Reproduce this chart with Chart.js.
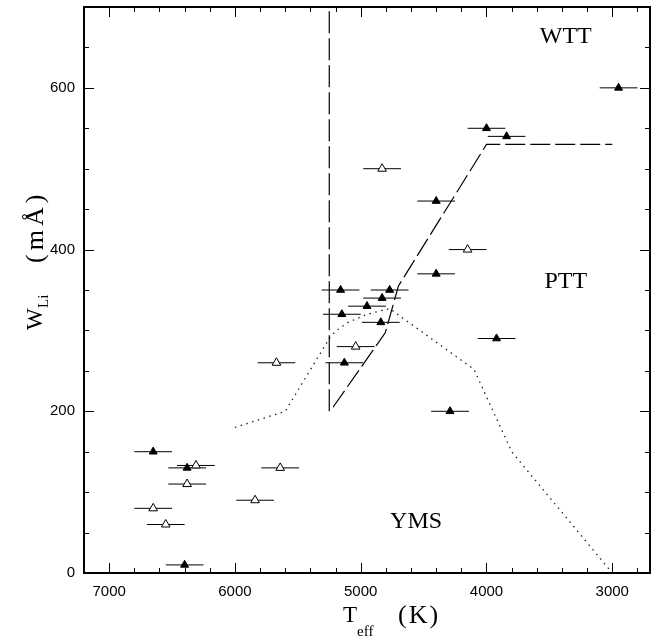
<!DOCTYPE html>
<html><head><meta charset="utf-8">
<script src="https://cdn.jsdelivr.net/npm/chart.js@4/dist/chart.umd.min.js"></script>
<style>html,body{margin:0;padding:0;background:#fff;}canvas{display:block;}</style>
</head><body>
<canvas id="c" width="671" height="640"></canvas>
<script>
// ---- data ----
const filledT = [2950, 4000, 3840, 4400, 4400, 5160, 4770, 4830, 4950, 5150, 4840, 5130, 3920, 4290, 6650, 6380, 6400];
const filledW = [600, 550, 540, 460, 370, 350, 350, 340, 330, 320, 310, 260, 290, 200, 150, 130, 10];
const openT = [4830, 4150, 5040, 5670, 6310, 5640, 6380, 5840, 6650, 6550];
const openW = [500, 400, 280, 260, 133, 130, 110, 90, 80, 60];
const tErr = 150;
const wttT = [5220, 4805, 4700, 4000, 3000];
const wttW = [205, 297, 355, 530, 530];
const vertT = [5250, 5250];
const vertW = [200, 700];
const ymsT = [6000, 5600, 5250, 5200, 5100, 4950, 4770, 4100, 3800, 3000];
const ymsW = [180, 200, 290, 299, 310, 320, 327, 252, 150, 0];
const xTicks = [7000, 6000, 5000, 4000, 3000];
const yTicks = [0, 200, 400, 600];
const regionNames = ['WTT', 'PTT', 'YMS'];

const pts = (a, b) => a.map((v, i) => ({x: v, y: b[i]}));

const decor = {
  id: 'decor',
  beforeDatasetsDraw(chart) {
    const {ctx, scales: {x, y}} = chart;
    ctx.save();
    ctx.strokeStyle = '#000';
    ctx.lineWidth = 1;
    ctx.beginPath();
    const all = pts(filledT, filledW).concat(pts(openT, openW));
    all.forEach(p => {
      const py = y.getPixelForValue(p.y);
      ctx.moveTo(x.getPixelForValue(p.x - tErr), py);
      ctx.lineTo(x.getPixelForValue(p.x + tErr), py);
    });
    ctx.stroke();
    ctx.restore();
  },
  afterDraw(chart) {
    const {ctx, chartArea: a, scales: {x, y}} = chart;
    ctx.save();
    ctx.strokeStyle = '#000';
    ctx.lineWidth = 1;
    ctx.beginPath();
    for (let v = 2800; v <= 7200; v += 200) {
      const len = v % 1000 === 0 ? 10 : 5;
      const px = Math.round(x.getPixelForValue(v)) + 0.5;
      ctx.moveTo(px, a.bottom); ctx.lineTo(px, a.bottom - len);
      ctx.moveTo(px, a.top); ctx.lineTo(px, a.top + len);
    }
    for (let v = 50; v < 700; v += 50) {
      const len = v % 200 === 0 ? 10 : 5;
      const py = Math.round(y.getPixelForValue(v)) + 0.5;
      ctx.moveTo(a.left, py); ctx.lineTo(a.left + len, py);
      ctx.moveTo(a.right, py); ctx.lineTo(a.right - len, py);
    }
    ctx.stroke();
    ctx.lineWidth = 2;
    ctx.strokeRect(a.left, a.top, a.right - a.left, a.bottom - a.top);

    ctx.fillStyle = '#000';
    ctx.font = '24px "Liberation Serif"';
    ctx.textAlign = 'center';
    ctx.textBaseline = 'middle';
    const place = [[3370, 663], [3370, 360], [4560, 63]];
    regionNames.forEach((n, i) => ctx.fillText(n, x.getPixelForValue(place[i][0]), y.getPixelForValue(place[i][1])));

    // x title: T_eff (K)
    ctx.textAlign = 'left';
    ctx.textBaseline = 'alphabetic';
    const cx = (a.left + a.right) / 2;
    ctx.font = '23px "Liberation Serif"';
    ctx.fillText('T', cx - 24, a.bottom + 49);
    ctx.font = '15px "Liberation Serif"';
    ctx.fillText('eff', cx - 10, a.bottom + 63);
    ctx.font = '26px "Liberation Serif"';
    ctx.letterSpacing = '2px';
    ctx.fillText('(K)', cx + 31, a.bottom + 50);
    ctx.letterSpacing = '0px';

    // y title: W_Li (mÅ)
    ctx.translate(42, 330);
    ctx.rotate(-Math.PI / 2);
    ctx.font = '23px "Liberation Serif"';
    ctx.fillText('W', 0, 0);
    ctx.font = '15px "Liberation Serif"';
    ctx.fillText('Li', 22, 6);
    ctx.font = '26px "Liberation Serif"';
    ctx.letterSpacing = '4px';
    ctx.fillText('(mÅ)', 67, 1);
    ctx.restore();
  }
};

new Chart(document.getElementById('c'), {
  type: 'scatter',
  data: {
    datasets: [
      {label: 'open', data: pts(openT, openW), pointStyle: 'triangle', pointRadius: 5,
       backgroundColor: '#fff', borderColor: '#000', borderWidth: 1},
      {label: 'filled', data: pts(filledT, filledW), pointStyle: 'triangle', pointRadius: 4.6,
       backgroundColor: '#000', borderColor: '#000', borderWidth: 1},
      {label: 'WTT/PTT', data: pts(wttT, wttW), showLine: true, pointRadius: 0,
       borderColor: '#000', borderWidth: 1.2, borderDash: [20, 5], tension: 0},
      {label: 'Li limit', data: pts(vertT, vertW), showLine: true, pointRadius: 0,
       borderColor: '#000', borderWidth: 1.2, borderDash: [22, 5], tension: 0},
      {label: 'PTT/YMS', data: pts(ymsT, ymsW), showLine: true, pointRadius: 0,
       borderColor: '#222', borderWidth: 1.3, borderDash: [1.5, 4.5], tension: 0}
    ]
  },
  options: {
    responsive: false,
    animation: false,
    devicePixelRatio: 1,
    layout: {padding: {top: 7, right: 21, left: 0, bottom: 0}},
    plugins: {legend: {display: false}, tooltip: {enabled: false}},
    scales: {
      x: {
        type: 'linear', reverse: true, min: 2700, max: 7200,
        afterBuildTicks: s => { s.ticks = xTicks.map(v => ({value: v})); },
        afterFit: s => { s.height = 67; s.paddingLeft = 0; s.paddingRight = 0; },
        grid: {display: false, drawTicks: false},
        border: {display: false},
        ticks: {font: {family: '"Liberation Sans"', size: 15}, color: '#000', padding: 10, maxRotation: 0, autoSkip: false,
                callback: v => String(v)}
      },
      y: {
        type: 'linear', min: 0, max: 700,
        afterBuildTicks: s => { s.ticks = yTicks.map(v => ({value: v})); },
        afterFit: s => { s.width = 84; s.paddingTop = 0; s.paddingBottom = 0; },
        grid: {display: false, drawTicks: false},
        border: {display: false},
        ticks: {font: {family: '"Liberation Sans"', size: 15}, color: '#000', padding: 9, autoSkip: false,
                callback: v => String(v)}
      }
    }
  },
  plugins: [decor]
});
</script>
</body></html>
